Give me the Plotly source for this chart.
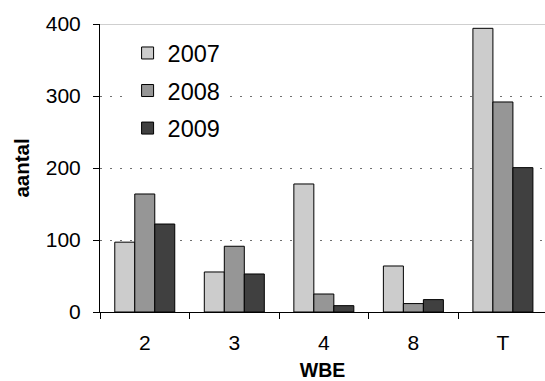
import plotly.graph_objects as go

categories = ["2", "3", "4", "8", "T"]
series_names = ["2007", "2008", "2009"]
values_2007 = [97, 55.6, 177.8, 63.9, 394]
values_2008 = [163.9, 91.3, 25, 11.7, 291.7]
values_2009 = [122.2, 52.8, 8.8, 17.2, 200.5]
series_values = [values_2007, values_2008, values_2009]
colors = ["#cccccc", "#969696", "#404040"]
y_ticks = [0, 100, 200, 300, 400]

FONT = "Liberation Sans, Arial, sans-serif"

fig = go.Figure()
for i, (name, vals) in enumerate(zip(series_names, series_values)):
    fig.add_trace(go.Bar(
        x=categories, y=vals, name=name,
        marker=dict(color=colors[i], line=dict(color="black", width=1)),
        legendgroup=name,
    ))

fig.update_layout(
    width=545, height=381,
    margin=dict(l=100, r=0, t=24, b=69),
    paper_bgcolor="white", plot_bgcolor="white",
    barmode="group", bargap=0.33, bargroupgap=0,
    font=dict(family=FONT, color="black"),
    showlegend=True,
    legend=dict(
        x=0.062, y=0.975, xanchor="left", yanchor="top",
        bgcolor="white", borderwidth=0,
        font=dict(family=FONT, size=23.5, color="black"),
        traceorder="grouped", tracegroupgap=4,
    ),
    xaxis=dict(
        type="category", range=[-0.5, 4.47], automargin=False,
        showline=True, linecolor="black", linewidth=1,
        ticks="outside", ticklen=6, tickcolor="black", tickson="boundaries",
        tickfont=dict(family=FONT, size=21, color="black"),
        ticklabelstandoff=12,
        showgrid=False, zeroline=False,
        title=dict(text="<b>WBE</b>", font=dict(family=FONT, size=19.5, color="black"), standoff=14),
    ),
    yaxis=dict(
        range=[0, 400], tickvals=y_ticks, automargin=False,
        showline=True, linecolor="black", linewidth=1,
        ticks="outside", ticklen=6, tickcolor="black",
        tickfont=dict(family=FONT, size=21, color="black"),
        ticklabelstandoff=8,
        showgrid=True, gridcolor="#707070", gridwidth=1, griddash="2px,8px",
        zeroline=False,
        title=dict(text="<b>aantal</b>", font=dict(family=FONT, size=20.5, color="black"), standoff=10),
    ),
    shapes=[dict(type="line", xref="paper", yref="y", x0=0, x1=1, y0=400, y1=400,
                 line=dict(color="#a0a0a0", width=1), layer="below")],
)

fig.write_html("out.html", config={"displayModeBar": False},
               post_script="document.body.style.margin='0';")
